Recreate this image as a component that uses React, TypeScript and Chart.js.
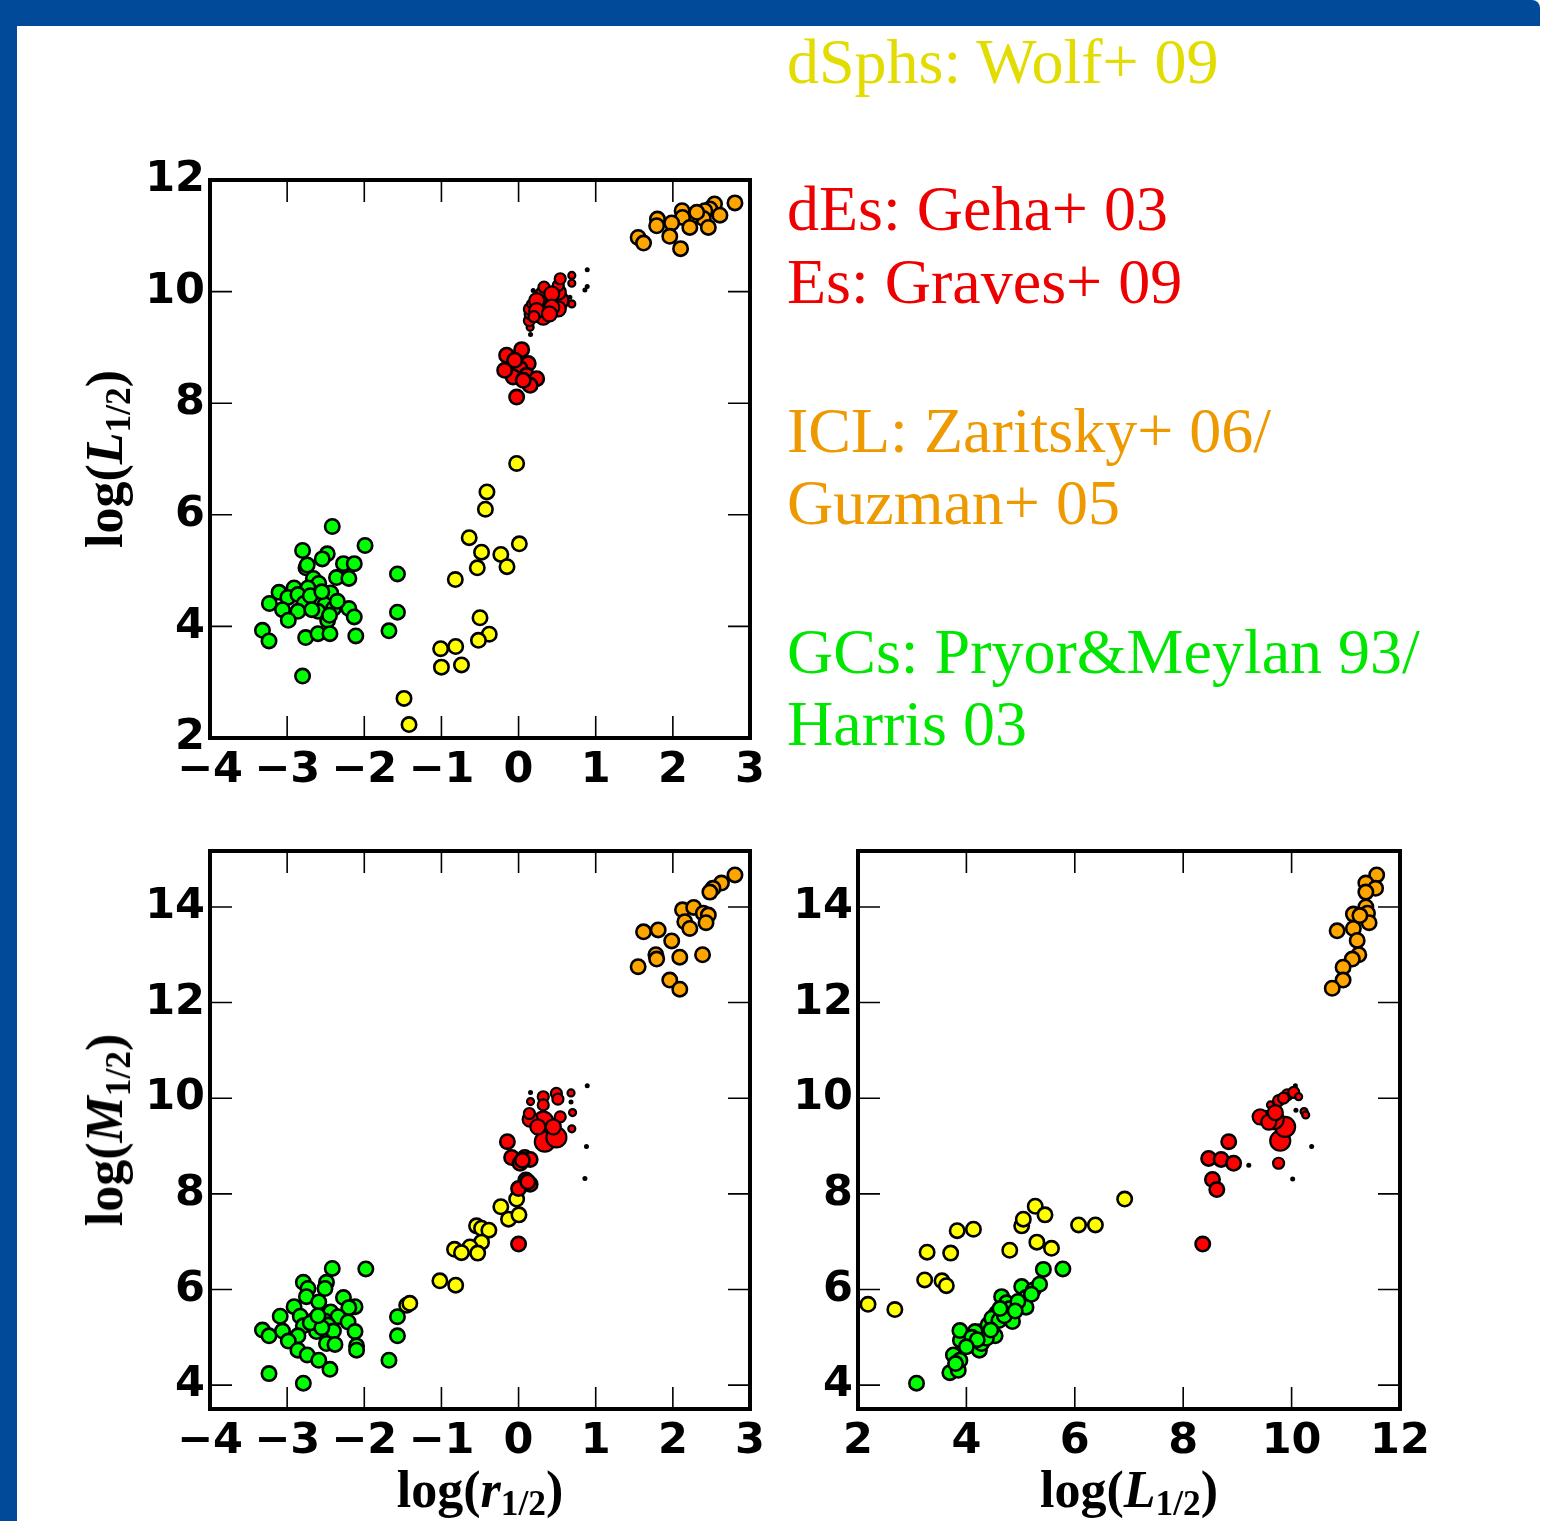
import React, { useEffect, useRef } from 'react';
import { Chart, registerables } from 'chart.js';
Chart.register(...registerables);

// ---------- tick labels ----------
const R_TICKS = [-4, -3, -2, -1, 0, 1, 2, 3];
const L_TICKS_Y = [2, 4, 6, 8, 10, 12];
const M_TICKS = [4, 6, 8, 10, 12, 14];
const L_TICKS_X = [2, 4, 6, 8, 10, 12];

// ---------- panel 1: log(r1/2) vs log(L1/2) ----------
const P1_GC = [[-2.415,5.79],[-1.99,5.45],[-2.80,5.36],[-2.48,5.30],[-2.545,5.21],[-2.27,5.125],[-2.13,5.125],[-2.756,5.05],[-2.74,5.10],[-1.57,4.94],[-2.36,4.875],[-2.20,4.86],[-2.66,4.86],[-2.59,4.77],[-3.105,4.61],[-2.91,4.69],[-2.73,4.69],[-2.435,4.60],[-2.99,4.52],[-2.86,4.57],[-2.63,4.49],[-3.23,4.41],[-2.78,4.41],[-2.51,4.39],[-3.06,4.30],[-2.86,4.27],[-2.60,4.27],[-2.40,4.32],[-2.20,4.32],[-2.13,4.17],[-1.57,4.255],[-2.985,4.11],[-2.475,4.11],[-3.32,3.93],[-2.76,3.80],[-2.60,3.87],[-2.445,3.87],[-2.11,3.83],[-1.68,3.92],[-3.235,3.74],[-2.80,3.11],[-2.70,4.55],[-2.55,4.62],[-2.35,4.45],[-2.68,4.30],[-2.45,4.20]];
const P1_DSPH = [[-0.025,6.92],[-0.41,6.41],[-0.43,6.10],[-0.64,5.59],[0.01,5.48],[-0.48,5.33],[-0.23,5.29],[-0.15,5.07],[-0.535,5.05],[-0.82,4.84],[-0.50,4.155],[-0.38,3.86],[-0.52,3.75],[-1.01,3.60],[-0.815,3.64],[-1.00,3.27],[-0.74,3.31],[-1.485,2.71],[-1.42,2.24]];
const P1_DE = [[-0.155,8.86],[0.04,8.96],[0.125,8.71],[0.02,8.62],[-0.07,8.47],[0.105,8.50],[0.235,8.44],[0.15,8.32],[-0.025,8.11],[-0.18,8.59],[0.06,8.41],[-0.05,8.77]];
const P1_ES = [[0.15,9.36],[0.14,9.48],[0.15,9.60],[0.14,9.69],[0.155,9.78],[0.32,9.54],[0.32,9.78],[0.32,9.96],[0.33,10.08],[0.515,9.84],[0.515,9.69],[0.515,9.99],[0.515,10.11],[0.54,10.23],[0.69,10.29],[0.69,10.15],[0.69,9.78],[0.43,9.96],[0.43,9.72],[0.235,9.84],[0.235,9.66],[0.20,9.55],[0.40,9.60]];
const P1_ES_CLASS = [1,2,2,2,1,3,4,3,2,4,3,3,2,2,1,1,1,3,3,3,3,2,3];
const P1_DOT = [[0.155,9.23],[0.19,10.02],[0.89,10.39],[0.89,10.09],[0.86,10.03],[0.665,9.90]];
const P1_ICL = [[2.805,11.59],[2.54,11.57],[2.48,11.48],[2.415,11.45],[2.61,11.37],[2.395,11.31],[2.46,11.15],[2.255,11.36],[2.12,11.45],[2.125,11.33],[1.985,11.23],[1.80,11.30],[1.79,11.18],[2.22,11.15],[1.96,10.99],[2.10,10.77],[1.55,10.97],[1.62,10.87],[2.31,11.42]];

// ---------- panel 2: log(r1/2) vs log(M1/2) ----------
const P2_GC = [[-2.415,6.44],[-1.98,6.43],[-2.79,6.15],[-2.49,6.15],[-2.73,6.02],[-2.51,6.02],[-2.75,5.85],[-2.59,5.74],[-2.27,5.83],[-2.12,5.64],[-2.20,5.62],[-2.91,5.64],[-2.435,5.53],[-2.34,5.43],[-2.83,5.44],[-3.09,5.44],[-2.65,5.36],[-2.51,5.34],[-2.21,5.32],[-2.79,5.24],[-2.47,5.255],[-3.32,5.15],[-3.06,5.13],[-2.62,5.12],[-2.40,5.13],[-2.12,5.12],[-3.235,5.03],[-2.86,5.03],[-2.985,4.92],[-2.49,4.87],[-2.38,4.85],[-2.10,4.82],[-2.10,4.73],[-2.86,4.73],[-2.74,4.63],[-2.59,4.52],[-2.445,4.33],[-3.235,4.24],[-2.79,4.04],[-1.57,5.43],[-1.57,5.03],[-1.68,4.52],[-2.70,5.30],[-2.55,5.20],[-2.60,5.45]];
const P2_DSPH = [[-0.025,7.89],[-0.23,7.73],[-0.13,7.47],[0.005,7.56],[-0.545,7.33],[-0.48,7.28],[-0.385,7.24],[-0.48,6.99],[-0.63,6.89],[-0.83,6.84],[-0.74,6.77],[-0.53,6.76],[-1.02,6.18],[-0.815,6.09],[-1.45,5.67],[-1.41,5.71]];
const P2_DE = [[-0.145,9.09],[-0.09,8.76],[0.02,8.64],[0.08,8.76],[0.15,8.72],[0.095,8.29],[0.15,8.20],[0.00,8.11],[0.00,6.95],[0.05,8.70],[0.12,8.25]];
const P2_ES = [[0.32,9.51],[0.34,9.09],[0.49,9.18],[0.15,9.56],[0.14,9.68],[0.155,9.93],[0.32,10.03],[0.32,9.86],[0.49,10.10],[0.51,9.98],[0.54,9.61],[0.68,10.11],[0.70,9.70],[0.69,9.36],[0.25,9.40],[0.45,9.40]];
const P2_ES_CLASS = [4,4,4,3,2,1,2,2,2,2,2,1,1,1,3,3];
const P2_DOT = [[0.155,10.12],[0.68,9.92],[0.89,10.26],[0.88,8.99],[0.86,8.32]];
const P2_ICL = [[2.805,14.67],[2.63,14.50],[2.52,14.39],[2.48,14.31],[2.125,13.94],[2.27,13.99],[2.395,13.87],[2.46,13.83],[2.43,13.67],[2.155,13.69],[2.22,13.55],[1.62,13.48],[1.81,13.52],[1.985,13.29],[1.78,13.0],[1.79,12.91],[2.09,12.95],[2.385,13.0],[1.55,12.75],[1.96,12.47],[2.09,12.28]];

// ---------- panel 3: log(L1/2) vs log(M1/2) ----------
const P3_GC = [[3.08,4.04],[3.695,4.26],[3.85,4.31],[3.76,4.63],[3.88,4.52],[3.89,4.94],[3.88,5.14],[4.08,4.84],[4.24,4.73],[4.28,5.12],[4.16,5.12],[4.28,4.87],[4.53,5.03],[4.40,5.26],[4.56,5.51],[4.47,5.40],[4.65,5.85],[4.74,5.72],[4.80,5.40],[4.85,5.33],[5.02,6.06],[5.10,5.83],[5.10,5.63],[5.235,5.99],[5.35,6.11],[5.42,6.42],[5.78,6.43],[4.80,5.60],[4.37,4.98],[4.60,5.35],[4.10,5.00],[4.20,4.95],[4.45,5.15],[4.70,5.45],[4.95,5.75],[5.20,5.90],[4.00,4.80],[3.80,4.45],[4.90,5.55],[4.62,5.60]];
const P3_DSPH = [[2.185,5.69],[2.68,5.58],[3.23,6.20],[3.55,6.18],[3.63,6.08],[3.275,6.78],[3.71,6.76],[3.83,7.23],[4.13,7.26],[4.80,6.82],[5.02,7.33],[5.05,7.47],[5.27,7.74],[5.45,7.56],[5.30,6.99],[5.57,6.86],[6.07,7.35],[6.38,7.35],[6.92,7.89]];
const P3_DE = [[8.84,9.09],[8.47,8.74],[8.70,8.72],[8.93,8.64],[8.54,8.30],[8.62,8.09],[8.36,6.95]];
const P3_ES = [[9.79,9.11],[9.88,9.40],[9.67,9.56],[9.52,9.58],[9.42,9.61],[9.61,9.86],[9.76,9.95],[9.92,10.07],[10.04,10.12],[10.13,10.03],[10.23,9.72],[10.26,9.65],[9.76,8.64],[9.58,9.50],[9.85,10.0],[9.70,9.70]];
const P3_ES_CLASS = [4,4,4,3,3,1,2,2,2,1,1,1,2,3,2,3];
const P3_DOT = [[10.07,10.26],[10.08,9.75],[10.37,8.99],[10.02,8.31],[9.21,8.60]];
const P3_ICL = [[11.57,14.67],[11.37,14.50],[11.55,14.39],[11.37,14.31],[11.37,14.0],[11.40,13.87],[11.14,13.85],[11.43,13.67],[11.14,13.55],[10.84,13.50],[11.21,13.30],[11.24,13.0],[11.12,12.91],[10.95,12.74],[10.95,12.47],[10.75,12.30],[11.26,13.82]];

// ---------- legend lines ----------
const LEGEND = [
  { text: 'dSphs: Wolf+ 09', color: '#e2dc00', baseline: 84 },
  { text: 'dEs: Geha+ 03', color: '#ee0000', baseline: 231 },
  { text: 'Es: Graves+ 09', color: '#ee0000', baseline: 304 },
  { text: 'ICL: Zaritsky+ 06/', color: '#ee9900', baseline: 453 },
  { text: 'Guzman+ 05', color: '#ee9900', baseline: 525 },
  { text: 'GCs: Pryor&Meylan 93/', color: '#00e600', baseline: 674 },
  { text: 'Harris 03', color: '#00e600', baseline: 746 },
];

const CLASS_RADIUS = [0, 3.5, 5.5, 7.5, 10];

const toPts = (arr: number[][]) => arr.map(([x, y]) => ({ x, y }));

function markerSet(data: number[][], color: string) {
  return {
    data: toPts(data),
    backgroundColor: color,
    borderColor: '#000',
    borderWidth: 2.6,
    pointRadius: 7.2,
    pointHoverRadius: 7.2,
  };
}
function esSet(data: number[][], classes: number[]) {
  const r = classes.map((c) => CLASS_RADIUS[c]);
  return {
    data: toPts(data),
    backgroundColor: '#ff0000',
    borderColor: '#000',
    borderWidth: 2.2,
    pointRadius: r,
    pointHoverRadius: r,
  };
}
function dotSet(data: number[][]) {
  return {
    data: toPts(data),
    backgroundColor: '#000',
    borderColor: '#000',
    borderWidth: 0,
    pointRadius: 2.5,
    pointHoverRadius: 2.5,
  };
}

const fmt = (v: number) => (v < 0 ? '\u2212' + Math.abs(v) : String(v));

const framePlugin = {
  id: 'mplFrame',
  afterDraw(chart: any) {
    const { ctx, chartArea: a } = chart;
    const xs = chart.scales.x;
    const ys = chart.scales.y;
    const tl = 22;
    ctx.save();
    ctx.strokeStyle = '#000';
    ctx.lineWidth = 1.6;
    ctx.beginPath();
    xs.ticks.forEach((t: any) => {
      const p = xs.getPixelForValue(t.value);
      ctx.moveTo(p, a.bottom);
      ctx.lineTo(p, a.bottom - tl);
      ctx.moveTo(p, a.top);
      ctx.lineTo(p, a.top + tl);
    });
    ys.ticks.forEach((t: any) => {
      const p = ys.getPixelForValue(t.value);
      ctx.moveTo(a.left, p);
      ctx.lineTo(a.left + tl, p);
      ctx.moveTo(a.right, p);
      ctx.lineTo(a.right - tl, p);
    });
    ctx.stroke();
    ctx.lineWidth = 4;
    ctx.strokeRect(a.left, a.top, a.right - a.left, a.bottom - a.top);
    ctx.restore();
  },
};

const tickFont = { family: '"DejaVu Sans"', weight: 'bold' as const, size: 43 };

interface PanelSpec {
  datasets: any[];
  xMin: number; xMax: number; xTicks: number[];
  yMin: number; yMax: number; yTicks: number[];
  width: number; height: number;
  padTop: number; padRight: number;
  yAxisW: number; xAxisH: number;
}

function buildConfig(p: PanelSpec): any {
  return {
    type: 'scatter',
    data: { datasets: p.datasets },
    options: {
      responsive: false,
      maintainAspectRatio: false,
      animation: false,
      events: [],
      layout: { padding: { top: p.padTop, right: p.padRight, left: 0, bottom: 0 } },
      plugins: { legend: { display: false }, tooltip: { enabled: false } },
      scales: {
        x: {
          type: 'linear',
          min: p.xMin,
          max: p.xMax,
          afterBuildTicks: (s: any) => { s.ticks = p.xTicks.map((v) => ({ value: v })); },
          afterFit: (s: any) => { s.height = p.xAxisH; },
          grid: { display: false, drawTicks: false },
          border: { display: false },
          ticks: { font: tickFont, color: '#000', padding: 7, maxRotation: 0, autoSkip: false, callback: (v: any) => fmt(Number(v)) },
        },
        y: {
          type: 'linear',
          min: p.yMin,
          max: p.yMax,
          afterBuildTicks: (s: any) => { s.ticks = p.yTicks.map((v) => ({ value: v })); },
          afterFit: (s: any) => { s.width = p.yAxisW; },
          grid: { display: false, drawTicks: false },
          border: { display: false },
          ticks: { font: tickFont, color: '#000', padding: 5, autoSkip: false, callback: (v: any) => fmt(Number(v)) },
        },
      },
    },
    plugins: [framePlugin],
  };
}

function Panel({ spec, left, top }: { spec: PanelSpec; left: number; top: number }) {
  const ref = useRef<HTMLCanvasElement | null>(null);
  useEffect(() => {
    if (!ref.current) return;
    const chart = new Chart(ref.current, buildConfig(spec));
    return () => chart.destroy();
  }, []);
  return (
    <canvas
      ref={ref}
      width={spec.width}
      height={spec.height}
      style={{ position: 'absolute', left, top, width: spec.width, height: spec.height }}
    />
  );
}

const panel1: PanelSpec = {
  datasets: [
    markerSet(P1_ICL, '#ffa500'),
    dotSet(P1_DOT),
    esSet(P1_ES, P1_ES_CLASS),
    markerSet(P1_DE, '#ff0000'),
    markerSet(P1_GC, '#00ff00'),
    markerSet(P1_DSPH, '#ffff00'),
  ],
  xMin: -4, xMax: 3, xTicks: R_TICKS,
  yMin: 2, yMax: 12, yTicks: L_TICKS_Y,
  width: 780, height: 810, padTop: 180, padRight: 30, yAxisW: 210, xAxisH: 72,
};
const panel2: PanelSpec = {
  datasets: [
    markerSet(P2_ICL, '#ffa500'),
    dotSet(P2_DOT),
    esSet(P2_ES, P2_ES_CLASS),
    markerSet(P2_DE, '#ff0000'),
    markerSet(P2_GC, '#00ff00'),
    markerSet(P2_DSPH, '#ffff00'),
  ],
  xMin: -4, xMax: 3, xTicks: R_TICKS,
  yMin: 3.5, yMax: 15.17, yTicks: M_TICKS,
  width: 780, height: 700, padTop: 31, padRight: 30, yAxisW: 210, xAxisH: 111,
};
const panel3: PanelSpec = {
  datasets: [
    markerSet(P3_ICL, '#ffa500'),
    dotSet(P3_DOT),
    esSet(P3_ES, P3_ES_CLASS),
    markerSet(P3_DE, '#ff0000'),
    markerSet(P3_GC, '#00ff00'),
    markerSet(P3_DSPH, '#ffff00'),
  ],
  xMin: 2, xMax: 12, xTicks: L_TICKS_X,
  yMin: 3.5, yMax: 15.17, yTicks: M_TICKS,
  width: 763, height: 700, padTop: 31, padRight: 143, yAxisW: 78, xAxisH: 111,
};

const titleFont: React.CSSProperties = {
  position: 'absolute',
  fontFamily: '"Liberation Serif", "Times New Roman", serif',
  fontWeight: 'bold',
  fontSize: 52,
  lineHeight: '52px',
  whiteSpace: 'nowrap',
  color: '#000',
};
const subStyle: React.CSSProperties = { fontSize: '0.68em', verticalAlign: '-0.22em', lineHeight: 0 };

function AxisTitle({ sym, cx, cy, rotate }: { sym: string; cx: number; cy: number; rotate?: boolean }) {
  return (
    <div style={{ ...titleFont, left: cx, top: cy, transform: `translate(-50%, -50%)${rotate ? ' rotate(-90deg)' : ''}` }}>
      log(<i>{sym}</i><span style={subStyle}>1/2</span>)
    </div>
  );
}

export default function App() {
  return (
    <div style={{ position: 'absolute', left: 0, top: 0, width: 1543, height: 1521, background: '#fff', overflow: 'hidden' }}>
      <div style={{ position: 'absolute', left: 0, top: 0, width: 1540, height: 26, background: '#004a99', borderTopRightRadius: 8 }} />
      <div style={{ position: 'absolute', left: 0, top: 0, width: 17, height: 1521, background: '#004a99' }} />
      <Panel spec={panel1} left={0} top={0} />
      <Panel spec={panel2} left={0} top={820} />
      <Panel spec={panel3} left={780} top={820} />
      <AxisTitle sym="L" cx={105} cy={459} rotate />
      <AxisTitle sym="M" cx={105} cy={1130} rotate />
      <AxisTitle sym="r" cx={480} cy={1490} />
      <AxisTitle sym="L" cx={1129} cy={1490} />
      {LEGEND.map((l, i) => (
        <div
          key={i}
          style={{
            position: 'absolute',
            left: 787,
            top: l.baseline - 54,
            fontFamily: '"Liberation Serif", "Times New Roman", serif',
            fontSize: 64,
            lineHeight: '64px',
            color: l.color,
            whiteSpace: 'nowrap',
          }}
        >
          {l.text}
        </div>
      ))}
    </div>
  );
}
